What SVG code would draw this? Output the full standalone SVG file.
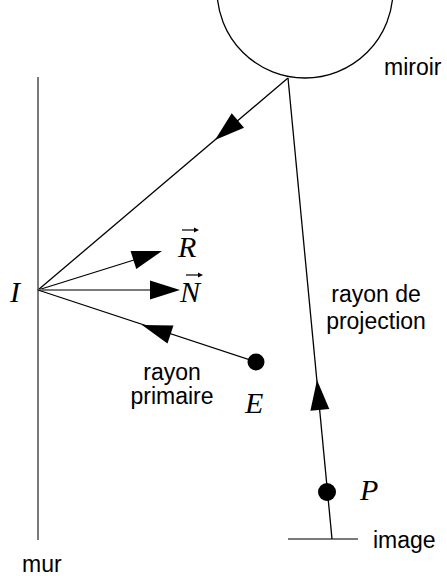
<svg xmlns="http://www.w3.org/2000/svg" width="447" height="576" viewBox="0 0 447 576">
<style>
.ln{stroke:#000;stroke-width:1.3;fill:none}
.gr{stroke:#7a7a7a;stroke-width:2;fill:none}
.ah{fill:#000;stroke:none}
.lbl{font-family:"Liberation Sans",Arial,sans-serif;font-size:23px;fill:#000}
.sym{font-family:"Liberation Serif","Times New Roman",serif;font-style:italic;font-size:30px;fill:#000}
</style>
<defs>
<path id="ah" d="M0,0 L-30,-9.5 L-30,9.5 Z"/>
<path id="va" d="M0,0 L-5,-2.5 L-5,2.5 Z"/>
</defs>
<rect width="447" height="576" fill="#fff"/>
<g id="miroir">
<circle cx="305" cy="-10" r="88" class="ln" stroke-width="1.2"/>
<text class="lbl" x="384" y="75">miroir</text>
</g>
<g id="mur">
<line x1="38" y1="77" x2="38" y2="540" class="gr"/>
<text class="lbl" x="22" y="572">mur</text>
</g>
<g id="I"><text class="sym" x="10" y="302">I</text></g>
<g id="R">
<text class="sym" x="178" y="257">R</text>
<line x1="182" y1="230" x2="196" y2="230" stroke="#000" stroke-width="1.2"/>
<use href="#va" transform="translate(199,230)"/>
</g>
<g id="N">
<text class="sym" x="180" y="302">N</text>
<line x1="186" y1="275" x2="200" y2="275" stroke="#000" stroke-width="1.2"/>
<use href="#va" transform="translate(203,275)"/>
</g>
<g id="E">
<circle cx="256" cy="362" r="8.5" fill="#000"/>
<text class="sym" x="245" y="413">E</text>
</g>
<g id="P">
<circle cx="327" cy="492" r="9" fill="#000"/>
<text class="sym" x="360" y="500">P</text>
</g>
<g id="image">
<line x1="288" y1="539" x2="358" y2="539" class="gr" stroke-width="1.5"/>
<text class="lbl" x="373" y="548">image</text>
</g>
<g id="labels">
<text class="lbl" x="376" y="302" text-anchor="middle">rayon de</text>
<text class="lbl" x="376" y="329" text-anchor="middle">projection</text>
<text class="lbl" x="172" y="380" text-anchor="middle">rayon</text>
<text class="lbl" x="172" y="404" text-anchor="middle">primaire</text>
</g>
<g id="connectors">
<line x1="288" y1="78" x2="38" y2="290" class="ln"/>
<use href="#ah" class="ah" transform="translate(215,140) rotate(139.7)"/>
<line x1="38" y1="290" x2="150" y2="255" class="ln"/>
<use href="#ah" class="ah" transform="translate(162,251) rotate(-17.5)"/>
<line x1="38" y1="290" x2="160" y2="290" class="gr" stroke-width="1.5"/>
<use href="#ah" class="ah" transform="translate(180,290)"/>
<line x1="256" y1="362" x2="38" y2="290" class="ln"/>
<use href="#ah" class="ah" transform="translate(142,325) rotate(-161.65)"/>
<line x1="288" y1="78" x2="332" y2="539" class="ln"/>
<use href="#ah" class="ah" transform="translate(317,380) rotate(-95.45)"/>
</g>
</svg>
